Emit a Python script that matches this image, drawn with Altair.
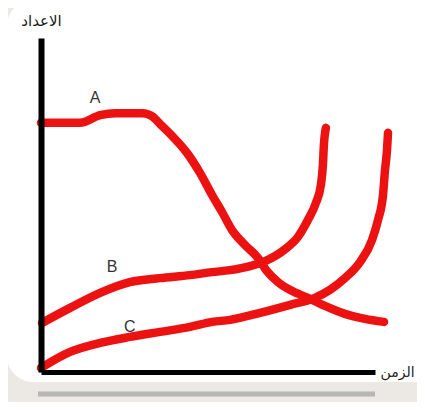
import altair as alt
import pandas as pd

# Curve A
a_t = [0, 11.7, 17.7, 22.2, 30.5, 33.2, 36.2, 39.5, 43.7, 47.6, 51.2, 54.2, 57.2, 61.1,
       65.0, 67.4, 71.0, 75.1, 79.9, 85.0, 91.0, 97.0, 102.7]
a_n = [74.6, 74.6, 76.9, 77.5, 77.5, 76.6, 73.7, 70.4, 65.6, 59.6, 53.0, 47.9, 42.5, 38.0,
       34.1, 30.5, 26.9, 24.3, 22.2, 19.8, 17.4, 15.9, 15.0]
# Curve B
b_t = [0.3, 8.7, 17.7, 26.6, 35.6, 44.6, 51.2, 56.6, 62.6, 67.1, 73.1, 76.9, 79.9, 82.3,
       83.8, 84.4, 84.7, 85.3]
b_n = [14.7, 19.2, 23.7, 26.9, 28.1, 29.0, 29.9, 30.5, 31.7, 33.2, 36.8, 40.4, 45.5, 50.6,
       56.0, 62.0, 68.0, 73.1]
# Curve C
c_t = [0.0, 8.7, 17.7, 26.6, 35.6, 44.6, 51.2, 56.6, 65.6, 74.6, 82.0, 86.5, 91.0, 95.5,
       99.1, 100.9, 102.4, 103.0, 103.6, 103.9]
c_n = [1.2, 6.0, 8.7, 10.5, 12.0, 13.5, 15.0, 15.6, 17.7, 20.1, 22.2, 24.6, 28.1, 32.9,
       39.5, 45.5, 53.0, 60.5, 66.5, 71.6]

label_text = ["A", "B", "C"]
label_t = [16.2, 21.3, 26.6]
label_n = [82.0, 31.4, 13.5]

x_title = "الزمن"
y_title = "الاعداد"

rows = []
for name, ts, ns in (("A", a_t, a_n), ("B", b_t, b_n), ("C", c_t, c_n)):
    for i, (t, n) in enumerate(zip(ts, ns)):
        rows.append({"series": name, "t": t, "n": n, "i": i})
curves = pd.DataFrame(rows)
labels = pd.DataFrame({"label": label_text, "t": label_t, "n": label_n})

xscale = alt.Scale(domain=[0, 100], nice=False, zero=False)
yscale = alt.Scale(domain=[0, 100], nice=False, zero=False)

frame = alt.Chart(pd.DataFrame({"k": [0]})).mark_rect(
    color="white", cornerRadius=26
).encode(
    x=alt.value(-34), x2=alt.value(400), y=alt.value(-38), y2=alt.value(344)
)

reflection = alt.Chart(pd.DataFrame({"k": [0]})).mark_rule(
    color="#b3b0ad", strokeWidth=5, opacity=0.9
).encode(
    x=alt.value(-3), x2=alt.value(334), y=alt.value(356)
)

lines = alt.Chart(curves).mark_line(
    color="#ec1212", strokeWidth=8.5, strokeCap="round", strokeJoin="round",
    interpolate="monotone"
).encode(
    x=alt.X("t:Q", scale=xscale, axis=alt.Axis(
        title=x_title, labels=False, ticks=False, grid=False,
        domainColor="black", domainWidth=5,
        titleX=339, titleY=0, titleAlign="left", titleBaseline="middle",
        titleAngle=0, titleFont="DejaVu Sans", titleFontSize=14,
        titleFontWeight="normal", titleColor="#222222", zindex=1)),
    y=alt.Y("n:Q", scale=yscale, axis=alt.Axis(
        title=y_title, labels=False, ticks=False, grid=False,
        domainColor="black", domainWidth=6,
        titleX=0, titleY=-18, titleAlign="center", titleBaseline="middle",
        titleAngle=0, titleFont="DejaVu Sans", titleFontSize=15,
        titleFontWeight="normal", titleColor="#1a1a1a", zindex=1)),
    detail="series:N",
    order="i:Q",
)

texts = alt.Chart(labels).mark_text(
    font="Liberation Sans", fontSize=16, color="#333333",
    align="center", baseline="middle"
).encode(
    x=alt.X("t:Q", scale=xscale),
    y=alt.Y("n:Q", scale=yscale),
    text="label:N",
)

chart = alt.layer(frame, reflection, lines, texts).properties(
    width=334, height=334,
    background="#ece8e4",
    autosize=alt.AutoSizeParams(type="none"),
    padding={"left": 33, "top": 30, "right": 42, "bottom": 30},
).configure_view(stroke=None)

chart.save("out.html", embed_options={"renderer": "svg", "actions": False})
